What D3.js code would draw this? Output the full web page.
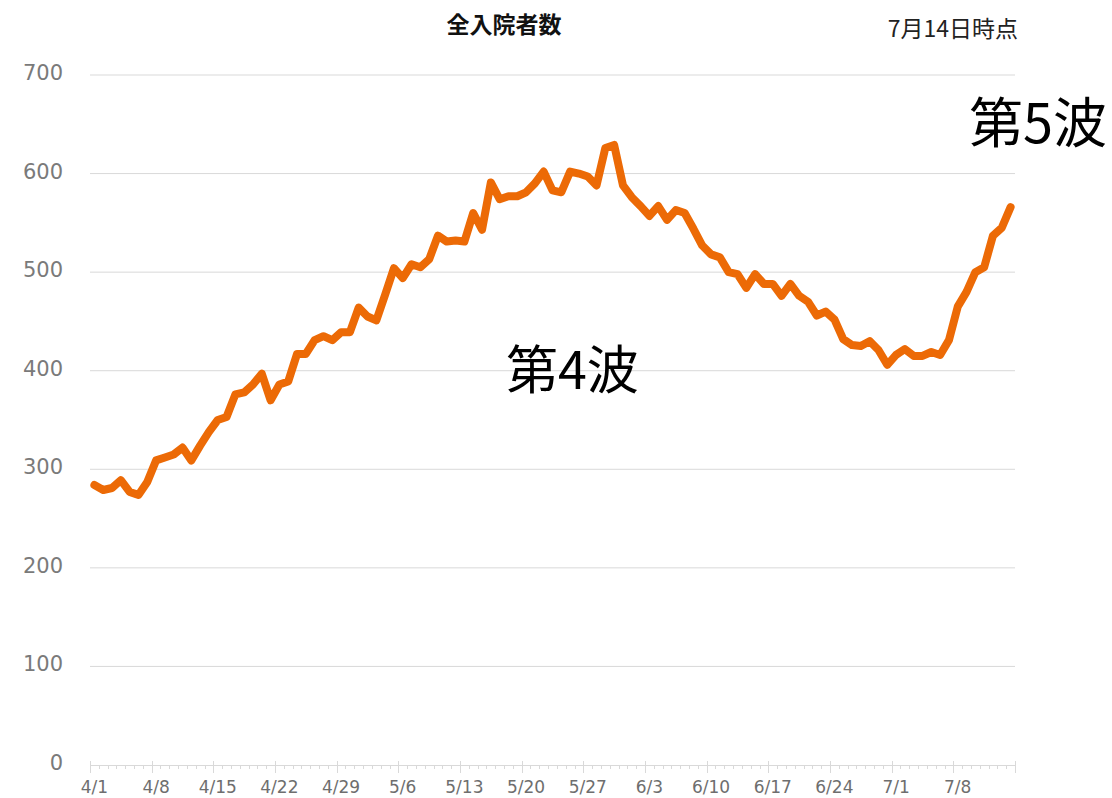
<!DOCTYPE html>
<html><head><meta charset="utf-8">
<script src="https://cdn.jsdelivr.net/npm/d3@7"></script>
<style>body{margin:0;background:#fff;} svg{display:block;}</style>
</head><body>
<svg id="chart" width="1112" height="798"></svg>
<script>
// Data: daily total hospitalized, 4/1 .. 7/14
const startDate = new Date(2021, 3, 1);
const values = [
  284, 279, 281, 289, 277, 274, 287, 309, 312, 315,
  322, 309, 324, 338, 350, 353, 376, 378, 386, 397,
  370, 386, 389, 417, 417, 431, 435, 431, 439, 439,
  464, 455, 451, 477, 504, 494, 508, 505, 513, 537,
  531, 532, 531, 560, 543, 591, 574, 577, 577, 581,
  590, 602, 583, 581, 602, 600, 597, 588, 626, 629,
  588, 576, 567, 557, 567, 553, 563, 560, 544, 527,
  518, 515, 500, 498, 484, 498, 488, 488, 476, 488,
  476, 470, 456, 460, 452, 432, 426, 425, 430, 421,
  406, 416, 422, 415, 415, 419, 416, 431, 465, 480,
  500, 505, 537, 545, 566
];
const dates = d3.timeDay.range(startDate, d3.timeDay.offset(startDate, values.length));
const categories = dates.map(d => (d.getMonth() + 1) + "/" + d.getDate());
const tickLabels = ["4/1","4/8","4/15","4/22","4/29","5/6","5/13","5/20","5/27","6/3","6/10","6/17","6/24","7/1","7/8"];
const yTicks = [0, 100, 200, 300, 400, 500, 600, 700];
const title = "全入院者数";
const asOf = "7月14日時点";
const waves = [{label: "第4波"}, {label: "第5波"}];

const svg = d3.select("#chart");
const x = d3.scaleBand().domain(categories).range([90, 1015]).paddingInner(0).paddingOuter(0);
const y = d3.scaleLinear().domain([0, 700]).range([765, 75]);
const cx = c => x(c) + x.bandwidth() / 2;

// gridlines
svg.append("g").selectAll("line").data(yTicks.filter(v => v > 0)).join("line")
  .attr("x1", 90).attr("x2", 1015)
  .attr("y1", d => y(d)).attr("y2", d => y(d))
  .attr("stroke", "#d9d9d9").attr("stroke-width", 1);

// y labels
svg.append("g").selectAll("text").data(yTicks).join("text")
  .attr("x", 63).attr("y", d => y(d) + 5)
  .attr("text-anchor", "end")
  .attr("font-family", "DejaVu Sans").attr("font-size", 21)
  .attr("fill", "#7a7a7a")
  .text(d => d);

// x axis line + ticks
const gx = svg.append("g");
gx.append("line").attr("x1", 90).attr("x2", 1015).attr("y1", 765.5).attr("y2", 765.5)
  .attr("stroke", "#d9d9d9").attr("stroke-width", 1);
const boundaries = categories.map(c => x(c)).concat([x.range()[1]]);
gx.selectAll("line.tk").data(boundaries).join("line").attr("class", "tk")
  .attr("x1", (d) => Math.round(d) + 0.5).attr("x2", d => Math.round(d) + 0.5)
  .attr("y1", (d, i) => i % 7 === 0 || i === boundaries.length - 1 ? 761 : 765)
  .attr("y2", (d, i) => i % 7 === 0 || i === boundaries.length - 1 ? 773 : 769)
  .attr("stroke", "#d9d9d9").attr("stroke-width", 1);
gx.selectAll("text").data(tickLabels).join("text")
  .attr("x", d => cx(d)).attr("y", 793)
  .attr("text-anchor", "middle")
  .attr("font-family", "DejaVu Sans").attr("font-size", 17)
  .attr("fill", "#6e6e6e")
  .text(d => d);

// line
const line = d3.line().x((d, i) => cx(categories[i])).y(d => y(d));
svg.append("path").datum(values)
  .attr("d", line)
  .attr("fill", "none")
  .attr("stroke", "#ec6a06")
  .attr("stroke-width", 8)
  .attr("stroke-linejoin", "round")
  .attr("stroke-linecap", "round");

// title
svg.append("text").attr("x", 504).attr("y", 33).attr("text-anchor", "middle")
  .attr("font-family", "Noto Sans CJK JP").attr("font-weight", "bold").attr("font-size", 23)
  .attr("fill", "#111").text(title);
svg.append("text").attr("x", 1018).attr("y", 37).attr("text-anchor", "end")
  .attr("font-family", "Noto Sans CJK JP").attr("font-size", 23)
  .attr("fill", "#222").text(asOf);

// wave annotations
svg.append("text").attr("x", 506).attr("y", 389)
  .attr("font-family", "Noto Sans CJK JP").attr("font-size", 52)
  .attr("fill", "#000").text(waves[0].label);
svg.append("text").attr("x", 969).attr("y", 143)
  .attr("font-family", "Noto Sans CJK JP").attr("font-size", 54)
  .attr("fill", "#000").text(waves[1].label);
</script>
</body></html>
